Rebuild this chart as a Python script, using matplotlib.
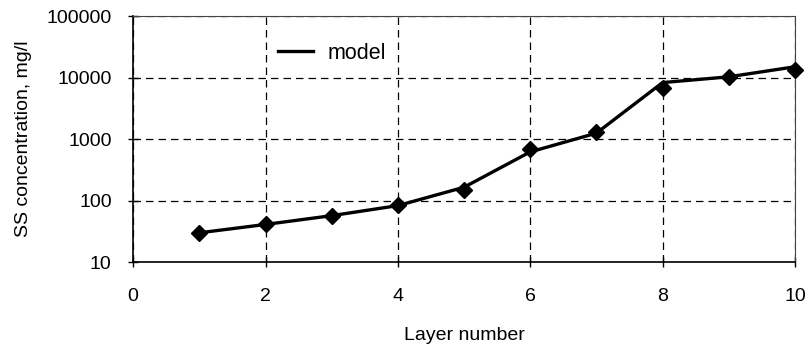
import matplotlib.pyplot as plt

# layer numbers and SS concentrations (mg/l)
layers = [1, 2, 3, 4, 5, 6, 7, 8, 9, 10]
model = [30, 41, 57, 83, 165, 620, 1250, 8300, 10300, 15000]
measured = [30, 41.5, 57, 84, 148, 680, 1285, 6700, 10100, 13300]

xticks = [0, 2, 4, 6, 8, 10]
yticks = [10, 100, 1000, 10000, 100000]

plt.rcParams['font.family'] = ['Liberation Sans', 'DejaVu Sans']

fig = plt.figure(figsize=(8.07, 3.5), dpi=100)
ax = fig.add_axes([0.165, 0.251, 0.820, 0.703])

ax.plot(layers, model, color='black', linewidth=2.4, label='model', zorder=3)
ax.plot(layers, measured, linestyle='none', marker='D', markersize=8,
        color='black', zorder=4, clip_on=False)

ax.set_yscale('log')
ax.set_xlim(0, 10)
ax.set_ylim(10, 100000)
ax.set_xticks(xticks)
ax.set_xticklabels([str(v) for v in xticks])
ax.set_yticks(yticks)
ax.set_yticklabels([str(v) for v in yticks])
ax.minorticks_off()

ax.grid(True, color='black', linestyle=(0, (6, 4)), linewidth=0.9)
ax.tick_params(direction='inout', length=7, width=1, labelsize=14)
ax.tick_params(axis='x', pad=15)
ax.tick_params(axis='y', pad=12)
for s in ['left', 'bottom']:
    ax.spines[s].set_linewidth(1.2)
for s in ['top', 'right']:
    ax.spines[s].set_linewidth(0.8)
    ax.spines[s].set_color('#444444')

ax.set_xlabel('Layer number', fontsize=14, labelpad=16)
ax.set_ylabel('SS concentration, mg/l', fontsize=14, labelpad=10)

ax.legend(loc='upper left', bbox_to_anchor=(0.19, 0.97), frameon=False,
          fontsize=15.5, handlelength=1.6, handletextpad=0.7)

fig.savefig('out.png', dpi=100)
